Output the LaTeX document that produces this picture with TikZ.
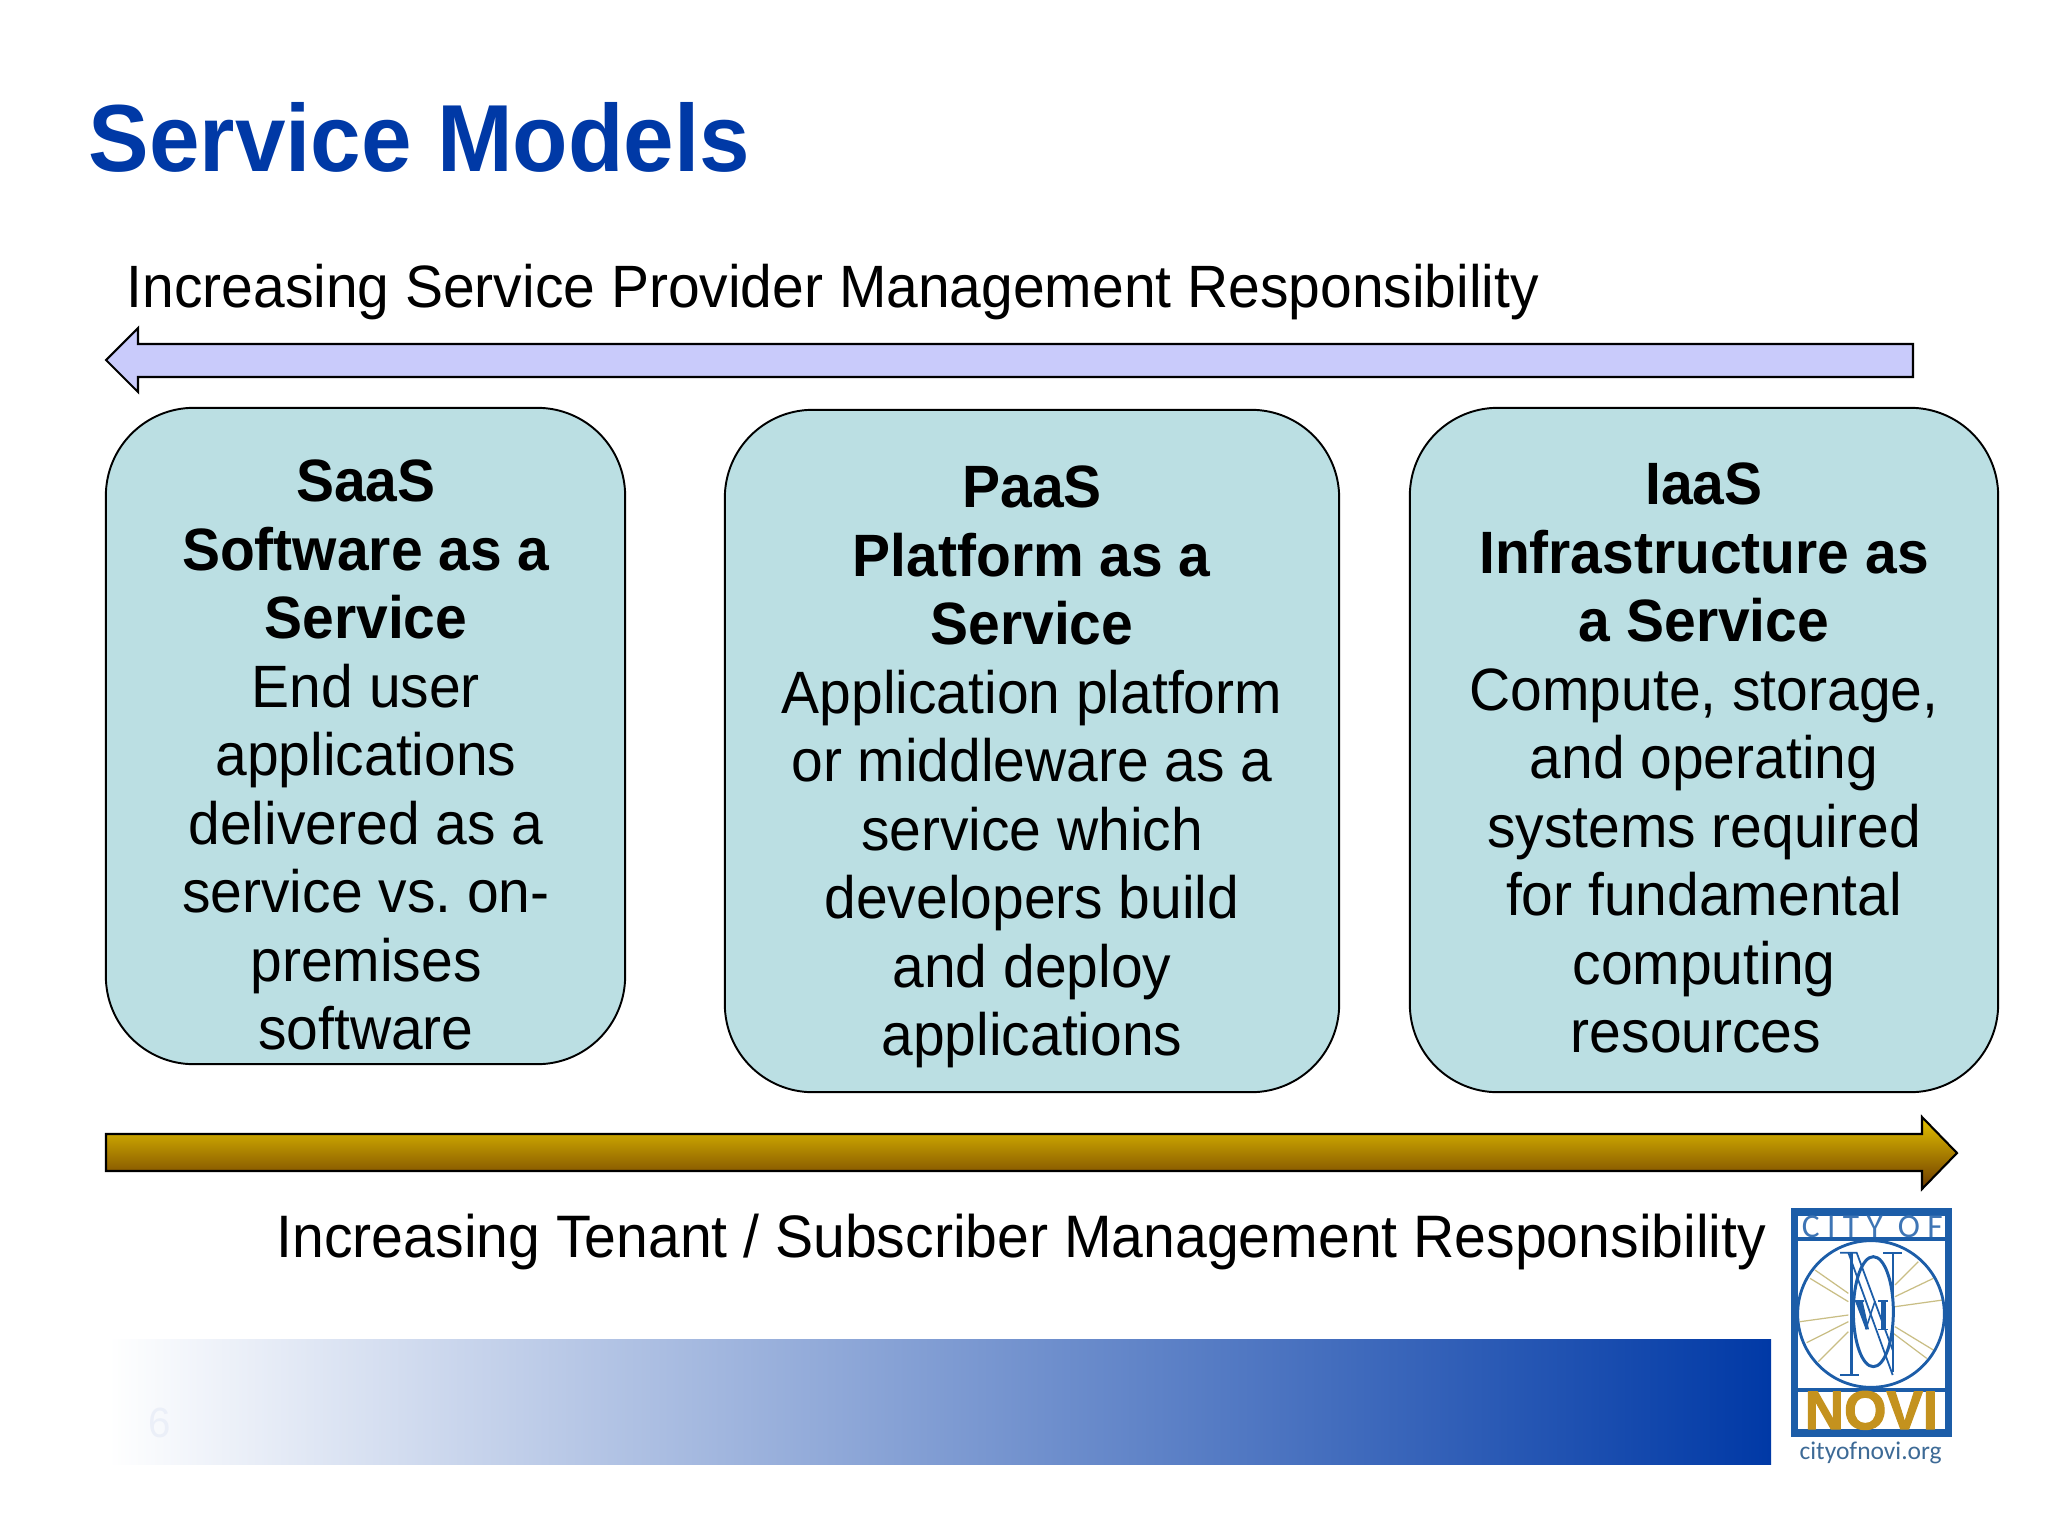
\documentclass[tikz,border=0pt]{standalone}
\usepackage{fontspec}
\setmainfont[FakeStretch=.953]{Liberation Sans}
\newfontfamily\logofont{Carlito}
\newfontfamily\novifont[BoldFeatures={FakeBold=2}]{Liberation Sans}
\definecolor{titleblue}{HTML}{0039A6}
\definecolor{boxteal}{HTML}{BBDFE3}
\definecolor{arrowlilac}{HTML}{C9CBFB}
\definecolor{arrowtop}{HTML}{E6C400}
\definecolor{arrowbottom}{HTML}{6C3A00}
\definecolor{novigold}{HTML}{C4921E}
\definecolor{logoblue}{HTML}{1C5DA8}
\definecolor{urlblue}{HTML}{3D6A96}
\definecolor{raytan}{HTML}{C9BE85}
\begin{document}
\begin{tikzpicture}[x=0.01cm,y=-0.01cm,
    modelbox/.style={draw=black,line width=.55pt,fill=boxteal,rounded corners=.88cm,inner sep=0pt,outer sep=0pt},
    modeltext/.style={align=center,inner sep=0pt,font=\fontsize{17}{19.47}\selectfont},
    plainlabel/.style={anchor=base west,inner sep=0pt,font=\fontsize{17}{20}\selectfont},
    blockarrow/.style={draw=black,line width=.6pt,line join=miter},
    logoline/.style={draw=logoblue,line width=.45pt},
    logoray/.style={draw=raytan,line width=.35pt}]
  \useasboundingbox (0,0) rectangle (2048,1536);
  \node (title) at (88,171) [anchor=base west,inner sep=0pt,text=titleblue,font=\fontsize{27.1}{32}\selectfont\bfseries] {Service Models};
  % responsibility arrows
  \node (provider) at (126,307) [plainlabel] {Increasing Service Provider Management Responsibility};
  \draw[blockarrow,fill=arrowlilac] (1913,344) -- (138,344) -- (138,328) -- (106,360) -- (138,392) -- (138,377) -- (1913,377) -- cycle;
  \shade[blockarrow,top color=arrowtop,bottom color=arrowbottom]
    (106,1134) -- (1922,1134) -- (1922,1117) -- (1957,1153) -- (1922,1189) -- (1922,1171) -- (106,1171) -- cycle;
  \node (tenant) at (276,1257) [plainlabel,font=\fontsize{17.05}{20}\selectfont] {Increasing Tenant / Subscriber Management Responsibility};
  % the three models
  \node (saasbox) at (365.5,736) [modelbox,minimum width=5.19cm,minimum height=6.56cm] {};
  \node (paasbox) at (1032,751) [modelbox,minimum width=6.14cm,minimum height=6.82cm] {};
  \node (iaasbox) at (1704,750) [modelbox,minimum width=5.88cm,minimum height=6.84cm] {};
  \node (saastext) at (366,755) [modeltext] {\textbf{SaaS}\\\textbf{Software as a}\\\textbf{Service}\\End user\\applications\\delivered as a\\service vs.\ on-\\premises\\software};
  \node (paastext) at (1032,767) [modeltext] {\textbf{PaaS}\\\textbf{Platform as a}\\\textbf{Service}\\Application platform\\or middleware as a\\service which\\developers build\\and deploy\\applications};
  \node (iaastext) at (1704,758) [modeltext] {\textbf{IaaS}\\\textbf{Infrastructure as}\\\textbf{a Service}\\Compute, storage,\\and operating\\systems required\\for fundamental\\computing\\resources\hspace*{.16cm}};
  % footer bar
  \shade[left color=white,right color=titleblue] (108,1339) rectangle (1771,1464);
  \node (pagenum) at (160,1423) [text=white!92!titleblue,inner sep=0pt,font=\fontsize{12}{14}\selectfont] {6};
  % logo, in steps of a third of a pixel
  \begin{scope}[shift={(1760,1190)},x=0.01cm/3,y=-0.01cm/3]
    \draw[draw=logoblue,line width=2.08pt,fill=white] (103,66) rectangle (566,729);
    \draw[logoline,line width=1.1pt] (103,146) -- (566,146);
    \draw[logoline,line width=1.1pt] (103,601) -- (566,601);
    \foreach \ax/\ay/\bx/\by in {405/285/475/215,405/320/520/265,405/350/548/330,405/410/520/480,400/430/500/505,265/310/165/240,265/335/150/265,265/375/120/395,265/395/140/458,265/425/175/515}
      \draw[logoray] (\ax,\ay) -- (\bx,\by);
    \draw[logoline,line width=.8pt] (333,372) circle [radius=220];
    \draw[logoline,line width=.85pt] (340,365) ellipse [x radius=60,y radius=165];
    \draw[logoline,line width=.75pt] (275,188) -- (275,555);
    \draw[logoline,line width=.6pt] (398,188) -- (398,545);
    \draw[logoline,line width=.5pt] (240,188) -- (290,188) -- (398,480);
    \draw[logoline,line width=.5pt] (265,188) -- (398,555);
    \draw[logoline,line width=.5pt] (370,188) -- (425,188);
    \draw[logoline,line width=.5pt] (240,555) -- (298,555);
    \fill[logoblue] (285,333) -- (308,333) -- (327,418) -- (317,418) -- cycle;
    \draw[logoline] (283,333) -- (312,333) (317,418) -- (345,333);
    \draw[logoline,line width=1.3pt] (370,333) -- (370,418);
    \draw[logoline] (355,333) -- (385,333) (355,418) -- (385,418);
    \node (cityof) at (337,110) [text=logoblue!85!white,inner sep=0pt,font=\fontsize{9.5}{9}\selectfont\logofont] {C\hspace{2.1pt}I\hspace{2.1pt}T\hspace{2.1pt}Y\ \ O\hspace{2.1pt}F};
    \node (noviword) at (334,661) [text=novigold,inner sep=0pt,font=\fontsize{15.5}{16}\selectfont\novifont\bfseries] {NOVI};
    \node (cityurl) at (332,790) [text=urlblue,inner sep=0pt,font=\fontsize{7.25}{8}\selectfont\logofont] {cityofnovi.org};
  \end{scope}
\end{tikzpicture}
\end{document}
